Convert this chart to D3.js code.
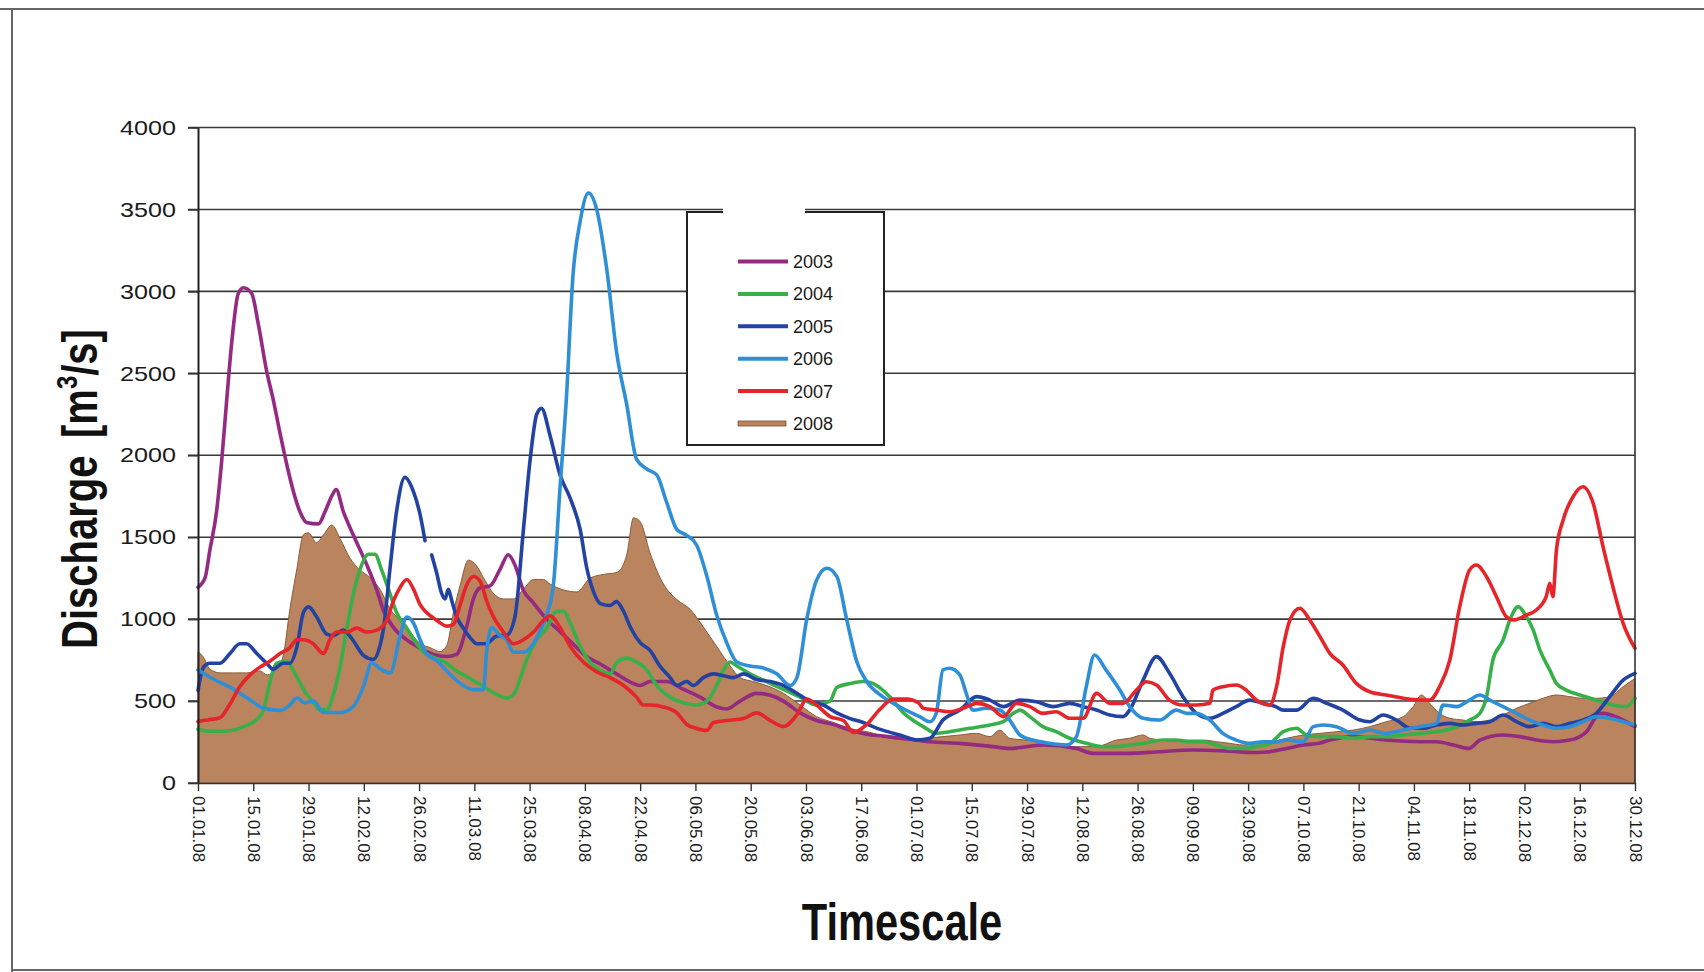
<!DOCTYPE html>
<html>
<head>
<meta charset="utf-8">
<script src="https://cdn.jsdelivr.net/npm/d3@7"></script>
<style>
  body { margin: 0; background: #fff; }
  svg { display: block; font-family: "Liberation Sans", Arial, sans-serif; }
</style>
</head>
<body>
<div id="chart"></div>
<script>
// x tick labels (every 14 days, day 0 = 01.01.08)
const tickLabels = ["01.01.08","15.01.08","29.01.08","12.02.08","26.02.08","11.03.08","25.03.08",
  "08.04.08","22.04.08","06.05.08","20.05.08","03.06.08","17.06.08","01.07.08","15.07.08",
  "29.07.08","12.08.08","26.08.08","09.09.08","23.09.08","07.10.08","21.10.08","04.11.08",
  "18.11.08","02.12.08","16.12.08","30.12.08"];
const yTicks = [0, 500, 1000, 1500, 2000, 2500, 3000, 3500, 4000];

// [day of year, discharge m3/s]
const s2003 = [[0,1194],[1.8,1253],[3,1420],[4.7,1657],[6,1966],[7.3,2345],[8.5,2678],[10.2,2987],[11.5,3022],[13.6,2987],[15.3,2797],[17.4,2512],[19,2345],[20.8,2132],[22.5,1942],[24.2,1776],[25.8,1657],[27.5,1590],[30.5,1581],[32.2,1657],[33.9,1752],[35,1790],[36.8,1657],[39.4,1510],[42.8,1329],[45.3,1177],[47,1051],[49.5,950],[52.9,873],[56.3,823],[59.6,785],[63,772],[65.5,785],[68,950],[69.8,1127],[71.4,1190],[74,1203],[76.5,1304],[78.6,1393],[80.3,1329],[82.4,1177],[84.9,1101],[88.3,1000],[91.7,924],[95,848],[98.4,772],[101.9,726],[106,666],[110.3,607],[112,595],[114.5,619],[118.7,619],[123,571],[127.2,524],[131.4,464],[134,452],[137.3,500],[141.5,547],[145,535],[148.3,500],[152.5,428],[156.7,381],[161,357],[165.2,321],[169.4,298],[173.6,286],[177.8,274],[182,262],[185.4,252],[193,242],[201.4,222],[205.6,211],[214,232],[222.5,211],[226.7,181],[235.2,181],[243.6,191],[252,201],[260,196],[268,186],[271.5,191],[275.7,211],[280,232],[284,242],[286.7,262],[292.6,283],[301,262],[309.5,252],[313.7,252],[318,232],[322,211],[324.7,262],[330.6,293],[334.8,283],[339,262],[343.2,252],[347.5,262],[351.7,313],[354.2,405],[356,425],[360,395],[364,344]];

const s2004 = [[0,328],[3,316],[6.4,316],[9.8,328],[12.3,351],[14.9,387],[16.6,446],[18.2,612],[19.9,731],[22.5,743],[24.2,684],[25.8,612],[27.5,541],[29.2,494],[30.9,446],[32.6,446],[34.3,541],[36,707],[37.7,945],[39.4,1158],[41,1301],[43.2,1396],[44.8,1396],[46.5,1301],[48.6,1158],[50.3,1040],[52.9,945],[55.4,850],[57,802],[59.6,767],[62.2,743],[65.5,684],[69,636],[72.3,589],[75.7,541],[78.2,518],[80,541],[81.6,636],[83.3,755],[85.8,874],[88.3,945],[90.9,1047],[92.6,1047],[94.3,976],[96.8,833],[99.3,738],[102.7,678],[104.4,666],[106.1,738],[108.6,762],[111.1,738],[113.7,690],[116.2,595],[119.6,524],[123,488],[126.3,476],[128.9,500],[131.4,595],[133.1,690],[134.8,738],[136.5,714],[139.8,666],[144,619],[148.3,571],[152.5,524],[156.7,476],[160.1,500],[161.8,583],[165.2,607],[168.5,619],[171.9,595],[175.3,524],[178.7,428],[182,369],[183.7,344],[187,303],[190.4,313],[195.5,334],[200.6,354],[204,374],[206.5,425],[208.2,445],[210.7,405],[214,344],[217.4,313],[220.8,273],[225,242],[229.3,222],[232.6,222],[236,232],[239.4,242],[244.4,262],[247.8,262],[251.2,252],[254.6,252],[258,232],[261.3,211],[264.7,211],[268,222],[271.5,240],[274.9,313],[278.3,334],[280.8,293],[284.2,283],[288.4,283],[292.6,273],[296.8,283],[301,283],[305.3,293],[309.5,303],[313.7,313],[317.9,334],[322.1,384],[324.7,425],[326.4,527],[328,751],[330.6,873],[332.3,995],[334.4,1076],[336.5,1015],[338.2,934],[339.9,812],[342.4,690],[344.1,608],[346.6,567],[350,537],[354.2,506],[358.4,476],[361.8,466],[364,517]];

const s2005 = [[0,565],[1.4,707],[3,731],[5.6,731],[8.1,790],[10.6,850],[12.3,850],[14.9,790],[17.4,731],[19,695],[21.6,731],[23.3,731],[25,826],[26.7,1040],[28,1075],[30,1016],[32.6,909],[34.3,900],[36.8,933],[39,880],[41.9,779],[44.4,755],[47,945],[48.6,1301],[50.3,1657],[52.4,1865],[54.6,1776],[56.3,1633],[57.5,1479],[58.3,null],[59.2,1391],[60.5,1277],[61.7,1158],[62.6,1123],[63.4,1182],[64.3,1111],[65.5,1016],[67.2,945],[69,885],[70.6,850],[73,850],[75.7,897],[78.2,902],[80.3,1016],[82.4,1538],[84.1,1966],[85.8,2250],[87,2286],[89.2,2118],[91.7,1880],[94.3,1737],[96.8,1547],[98.5,1309],[100.2,1166],[101.9,1095],[104.4,1083],[106,1107],[107.8,1047],[109.5,952],[112,857],[114.5,809],[117,714],[119.6,643],[121.3,595],[123.8,619],[125.5,595],[128,643],[130.6,666],[133.1,655],[135.6,643],[138.2,666],[141.5,631],[145,619],[148.3,595],[151.7,547],[155,500],[158.4,476],[161.8,428],[165.2,393],[168.5,369],[172,333],[175.3,309],[178.7,286],[182,262],[185.4,273],[188.7,384],[193,445],[197.2,527],[200.6,506],[204,466],[208.2,506],[212.4,496],[216.6,466],[220.8,486],[224.2,466],[227.6,445],[231,415],[234.3,405],[236,445],[239.4,628],[242.8,771],[246.1,669],[249.5,527],[252.9,425],[256.3,395],[259.6,425],[263,466],[266.4,506],[269.8,486],[273,466],[274.9,445],[278.3,445],[282.5,517],[285.9,486],[290,445],[294.3,384],[296.8,374],[300.2,415],[303.6,384],[307,334],[310.3,334],[313.7,354],[317.1,364],[320.5,354],[323.8,364],[327.2,374],[330.6,415],[334,374],[337.3,344],[340.7,364],[344.1,344],[347.5,364],[350.8,384],[354.2,425],[357.6,527],[361,628],[364,669]];

const s2006 = [[0,690],[4,633],[8.3,582],[12.5,519],[16.7,456],[20.9,443],[23,470],[25.1,519],[27,490],[29.3,500],[31.8,430],[36,430],[39.4,468],[42,595],[44,734],[46.2,696],[48.7,671],[51.2,899],[52.9,1013],[54.6,975],[56.3,873],[58,785],[60.5,747],[63,684],[66.4,608],[69.8,570],[72.3,570],[73.1,798],[74.4,949],[76.5,899],[78.2,873],[79.9,798],[82.4,798],[84.9,848],[86.6,924],[88.3,1025],[90,1203],[91.7,1800],[93.3,2342],[95,3102],[96.8,3427],[98.9,3600],[101,3499],[103.5,3142],[106.1,2618],[108.6,2309],[111.1,1975],[113.7,1916],[116.2,1880],[118.7,1714],[121.3,1547],[123.8,1511],[126.3,1452],[128.9,1261],[131.4,1023],[133.9,857],[136.5,738],[139.8,714],[143.2,702],[146.6,666],[150,595],[151.7,643],[154.2,1000],[156.7,1238],[159.3,1310],[161.8,1261],[164.3,1000],[166.9,738],[169.4,619],[173.6,524],[177.8,464],[182.8,405],[185.4,374],[187,425],[188.7,690],[190.4,700],[193,659],[194.6,547],[196.3,445],[199.7,456],[203.1,445],[205.6,384],[208.2,293],[211.5,262],[215.7,242],[220,232],[222.5,283],[225,588],[227.1,781],[230,690],[233.5,567],[236,466],[239.4,395],[243.6,384],[247.8,445],[250.4,425],[252.9,425],[256.3,384],[259.6,303],[263,262],[266.4,242],[269.8,252],[273.1,250],[275.7,262],[280,252],[282.5,344],[285,354],[288.4,344],[292.6,303],[296.8,323],[301,303],[305.3,323],[309.5,344],[313.7,364],[315.4,476],[318.8,466],[322.1,506],[324.7,537],[327.2,506],[330.6,466],[334,425],[337.3,384],[340.7,354],[344.1,334],[347.5,344],[350.8,374],[354.2,405],[357.6,395],[361,374],[364,354]];

const s2007 = [[0,375],[3,387],[5.6,399],[8.1,482],[10.6,589],[13.2,660],[15.7,707],[18.2,743],[20.8,790],[23.3,826],[25,874],[26.7,874],[29.2,850],[31.8,790],[33.4,874],[35.1,921],[37.7,921],[40.2,945],[42.7,921],[45.3,933],[47.8,992],[49.5,1111],[51.2,1194],[52.9,1242],[54.6,1182],[56.3,1087],[57.9,1040],[60.5,992],[63,957],[64.7,968],[66.4,1087],[68,1206],[69.8,1260],[71.5,1230],[73.1,1111],[74.8,1016],[77.4,921],[79.9,850],[82.4,874],[85,921],[87.5,992],[89.2,1020],[91.7,950],[94.3,833],[97.6,738],[101,678],[104.4,643],[107.8,595],[111.1,524],[112.8,476],[114.5,476],[117.9,464],[121.3,428],[123.8,357],[126.3,333],[128.9,321],[130.6,369],[133.9,381],[138.2,393],[141.5,428],[145,381],[148.3,345],[151.7,416],[154.2,512],[156.7,476],[160.1,405],[163.5,381],[166,309],[169.4,357],[172.8,452],[176.1,512],[179.5,512],[182.5,490],[183.7,456],[187,445],[190.4,435],[193.8,456],[197.2,486],[200.6,466],[204,405],[207.3,486],[210.7,466],[214,425],[217.4,435],[220.8,395],[224.2,395],[227.6,547],[231,486],[234.3,486],[237.7,567],[240.2,618],[242.8,598],[246.1,506],[249.5,476],[252.9,476],[256.3,486],[257.1,567],[259.6,588],[263,598],[265.5,567],[268.1,506],[271.5,476],[273.2,588],[274.9,832],[276.6,995],[279.1,1066],[281.6,995],[284.2,893],[286.7,791],[290,720],[293.4,608],[296.8,557],[301,537],[305.3,517],[309.5,506],[312,506],[314.5,588],[317.1,751],[319.6,1076],[322.1,1300],[323.8,1330],[326.4,1259],[328.9,1137],[331.4,1015],[333.1,995],[336.5,1025],[339,1056],[341.5,1137],[342.4,1218],[343.2,1137],[344.1,1422],[345.8,1605],[348.3,1747],[350.8,1808],[353.4,1707],[355.9,1442],[358.4,1198],[361,974],[364,822]];

const s2008 = [[0,802],[1.4,767],[3,695],[5.6,672],[9,672],[12.3,672],[15.7,684],[17.5,660],[19.9,695],[21.6,779],[23.3,1064],[25,1301],[26.7,1515],[28,1527],[30,1467],[31.8,1515],[33.9,1574],[36,1491],[38.5,1372],[41,1301],[43.6,1253],[46.1,1182],[48.6,1064],[51.2,992],[53.7,921],[56.3,850],[58.8,826],[61.3,802],[63,838],[64.7,1040],[66.4,1206],[68.5,1360],[70.6,1325],[72.3,1253],[74.8,1158],[77.4,1123],[79.9,1123],[82.4,1182],[85,1242],[87.5,1242],[89.2,1214],[92.6,1178],[96,1166],[99.3,1250],[102.7,1273],[106.1,1285],[108.6,1392],[110.3,1618],[112,1595],[114.5,1404],[117.9,1214],[121.3,1119],[124.7,1059],[128,952],[131.4,833],[134.8,714],[137.3,643],[140.7,619],[144,595],[148.3,547],[152.5,476],[156.7,405],[161,369],[165.2,333],[170.2,309],[175.3,274],[180.4,262],[184.5,273],[188.7,283],[193,293],[197.2,303],[200.6,283],[203.1,323],[205.6,273],[209.8,262],[214,252],[218.3,232],[222.5,222],[227.6,222],[232.6,262],[236,273],[239.4,293],[241.1,273],[244.4,262],[247.8,252],[251.2,262],[254.6,262],[258,252],[261.3,242],[264.7,232],[268,242],[271.5,250],[275.7,273],[280,293],[284.2,303],[288.4,313],[292.6,323],[296.8,344],[301,374],[305.3,405],[307.8,466],[309.9,537],[312,486],[314.5,425],[317.1,395],[320.5,384],[323.8,374],[327.2,384],[330.6,415],[334,456],[337.3,486],[340.7,517],[344.1,537],[347.5,527],[350.8,517],[354.2,517],[357.6,527],[361,588],[364,639]];

const lineSeries = [
  { name: "2003", values: s2003 },
  { name: "2004", values: s2004 },
  { name: "2005", values: s2005 },
  { name: "2006", values: s2006 },
  { name: "2007", values: s2007 },
];
const legendNames = ["2003", "2004", "2005", "2006", "2007", "2008"];

const color = new Map([
  ["2003", "#952a82"],
  ["2004", "#38b04a"],
  ["2005", "#2343a3"],
  ["2006", "#2f8fd6"],
  ["2007", "#e5252a"],
  ["2008", "#b9845e"],
]);

const width = 1704, height = 972;
const plot = { left: 198, right: 1635, top: 127.5, bottom: 783 };

const svg = d3.select("#chart").append("svg")
  .attr("width", width)
  .attr("height", height);

// scanned page frame
svg.append("path")
  .attr("d", `M0,9 H${width} M12,9 V${height} M12,970 H${width}`)
  .attr("fill", "none")
  .attr("stroke", "#666")
  .attr("stroke-width", 2);

const x = d3.scaleLinear().domain([0, 364]).range([plot.left, plot.right]);
const y = d3.scaleLinear().domain([0, 4000]).range([plot.bottom, plot.top]);

// gridlines
svg.append("g")
  .selectAll("line")
  .data(yTicks)
  .join("line")
  .attr("x1", plot.left - 10)
  .attr("x2", plot.right)
  .attr("y1", (d) => y(d))
  .attr("y2", (d) => y(d))
  .attr("stroke", "#3a3a3a")
  .attr("stroke-width", 1.6);

// 2008 area
const area = d3.area()
  .x((d) => x(d[0]))
  .y0(y(0))
  .y1((d) => y(d[1]))
  .curve(d3.curveMonotoneX);

svg.append("path")
  .datum(s2008)
  .attr("d", area)
  .attr("fill", color.get("2008"))
  .attr("stroke", "#8a5c3c")
  .attr("stroke-width", 1);

// lines
const line = d3.line()
  .defined((d) => d[1] != null)
  .x((d) => x(d[0]))
  .y((d) => y(d[1]))
  .curve(d3.curveMonotoneX);

svg.append("g")
  .selectAll("path")
  .data(lineSeries)
  .join("path")
  .attr("fill", "none")
  .attr("stroke", (d) => color.get(d.name))
  .attr("stroke-width", 3.6)
  .attr("stroke-linejoin", "round")
  .attr("stroke-linecap", "round")
  .attr("d", (d) => line(d.values));

// right border of plot
svg.append("line")
  .attr("x1", plot.right).attr("x2", plot.right)
  .attr("y1", plot.top).attr("y2", plot.bottom)
  .attr("stroke", "#333")
  .attr("stroke-width", 1.6);

// X axis
const xAxis = svg.append("g")
  .attr("transform", `translate(0,${plot.bottom})`)
  .call(d3.axisBottom(x)
    .tickValues(tickLabels.map((_, i) => i * 14))
    .tickSize(8)
    .tickSizeOuter(0)
    .tickFormat((d, i) => tickLabels[i]));
xAxis.select(".domain").attr("stroke", "#333").attr("stroke-width", 1.6);
xAxis.selectAll(".tick line").attr("stroke", "#333").attr("stroke-width", 1.4);
xAxis.selectAll("text")
  .attr("transform", "rotate(90)")
  .attr("x", 13)
  .attr("y", 0)
  .attr("dy", "0.35em")
  .style("text-anchor", "start")
  .attr("font-size", 17)
  .attr("fill", "#1a1a1a");

// Y axis
const yAxis = svg.append("g")
  .attr("transform", `translate(${plot.left},0)`)
  .call(d3.axisLeft(y)
    .tickValues(yTicks)
    .tickFormat(d3.format("d"))
    .tickSize(10)
    .tickPadding(12)
    .tickSizeOuter(0));
yAxis.select(".domain").attr("stroke", "#222").attr("stroke-width", 2);
yAxis.selectAll(".tick line").attr("stroke", "#333").attr("stroke-width", 1.6);
yAxis.selectAll("text")
  .attr("font-size", 21)
  .attr("fill", "#1a1a1a")
  .attr("textLength", (d) => String(d).length * 14)
  .attr("lengthAdjust", "spacingAndGlyphs");

// Axis titles
const yTitle = svg.append("text")
  .attr("transform", "translate(97,489) rotate(-90) scale(0.8,1)")
  .attr("text-anchor", "middle")
  .attr("font-size", 50)
  .attr("font-weight", "bold")
  .attr("fill", "#111");
yTitle.append("tspan").text("Discharge");
yTitle.append("tspan").attr("dx", 22).text("[m");
yTitle.append("tspan").attr("font-size", 30).attr("dy", -20).text("3");
yTitle.append("tspan").attr("dy", 20).text("/s]");

svg.append("text")
  .attr("transform", "translate(902,940) scale(0.8,1)")
  .attr("text-anchor", "middle")
  .attr("font-size", 52)
  .attr("font-weight", "bold")
  .attr("fill", "#111")
  .text("Timescale");

// Legend
const legend = svg.append("g");
legend.append("rect")
  .attr("x", 687).attr("y", 212)
  .attr("width", 197).attr("height", 233)
  .attr("fill", "#fff")
  .attr("stroke", "#222")
  .attr("stroke-width", 2);
// missing piece of the top border (scan)
legend.append("rect")
  .attr("x", 723).attr("y", 204)
  .attr("width", 82).attr("height", 12)
  .attr("fill", "#fff");

const items = legend.selectAll("g.item")
  .data(legendNames)
  .join("g")
  .attr("class", "item")
  .attr("transform", (d, i) => `translate(738,${261.5 + i * 32.4})`);

items.filter((d) => d !== "2008")
  .append("line")
  .attr("x1", 0).attr("x2", 50)
  .attr("stroke", (d) => color.get(d))
  .attr("stroke-width", 4);

items.filter((d) => d === "2008")
  .append("rect")
  .attr("x", 0).attr("y", -2.5)
  .attr("width", 48).attr("height", 5)
  .attr("fill", color.get("2008"))
  .attr("stroke", "#7a4f33")
  .attr("stroke-width", 0.8);

items.append("text")
  .attr("x", 55)
  .attr("dy", "0.36em")
  .attr("font-size", 18)
  .attr("fill", "#1a1a1a")
  .text((d) => d);
</script>
</body>
</html>
